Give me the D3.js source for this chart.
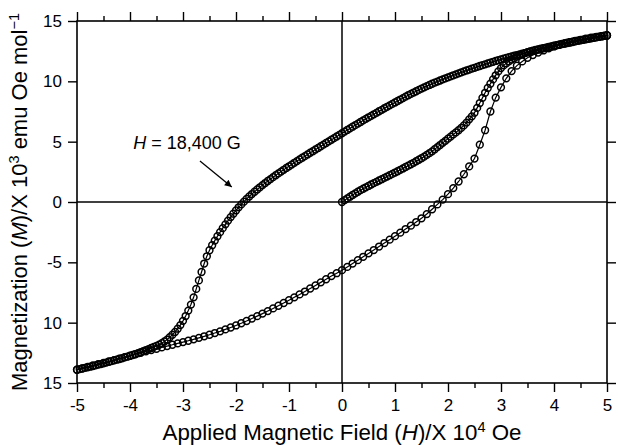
<!DOCTYPE html>
<html>
<head>
<meta charset="utf-8">
<script src="https://cdn.jsdelivr.net/npm/d3@7"></script>
<style>
  body { margin: 0; background: #fff; }
  text { font-family: "Liberation Sans", Arial, Helvetica, sans-serif; fill: #000; }
</style>
</head>
<body>
<div id="chart"></div>
<script>
// Virgin curve, 0 -> 5 (H x 10^4 Oe, M x 10^3 emu Oe/mol)
const hVirgin = [0.0,0.05,0.1,0.15,0.2,0.25,0.3,0.35,0.4,0.45,0.5,0.55,0.6,0.65,0.7,0.75,0.8,0.85,0.9,0.95,1.0,1.05,1.1,1.15,1.2,1.25,1.3,1.35,1.4,1.45,1.5,1.55,1.6,1.65,1.7,1.75,1.8,1.85,1.9,1.95,2.0,2.05,2.1,2.15,2.2,2.25,2.3,2.35,2.4,2.45,2.5,2.55,2.6,2.65,2.7,2.75,2.8,2.85,2.9,2.95,3.0,3.05,3.1,3.15,3.2,3.25,3.3,3.35,3.4,3.45,3.5,3.55,3.6,3.65,3.7,3.75,3.8,3.85,3.9,3.95,4.0,4.05,4.1,4.15,4.2,4.25,4.3,4.35,4.4,4.45,4.5,4.55,4.6,4.65,4.7,4.75,4.8,4.85,4.9,4.95,5.0];
const mVirgin = [0.0,0.15,0.3,0.44,0.58,0.72,0.85,0.98,1.1,1.22,1.33,1.45,1.56,1.67,1.78,1.89,2.0,2.11,2.22,2.33,2.44,2.55,2.67,2.78,2.9,3.01,3.13,3.25,3.38,3.5,3.63,3.76,3.9,4.05,4.2,4.37,4.55,4.72,4.9,5.07,5.25,5.42,5.6,5.77,5.95,6.14,6.35,6.58,6.85,7.1,7.4,7.8,8.2,8.63,9.05,9.45,9.8,10.16,10.5,10.82,11.1,11.32,11.5,11.66,11.8,11.93,12.05,12.15,12.25,12.34,12.42,12.49,12.55,12.6,12.65,12.7,12.75,12.8,12.85,12.9,12.95,13.0,13.05,13.1,13.15,13.2,13.24,13.29,13.33,13.38,13.42,13.46,13.5,13.54,13.58,13.62,13.66,13.7,13.74,13.78,13.82];

// Descending branch, 5 -> -5
const hDown = [5.0,4.95,4.9,4.85,4.8,4.75,4.7,4.65,4.6,4.55,4.5,4.45,4.4,4.35,4.3,4.25,4.2,4.15,4.1,4.05,4.0,3.95,3.9,3.85,3.8,3.75,3.7,3.65,3.6,3.55,3.5,3.45,3.4,3.35,3.3,3.25,3.2,3.15,3.1,3.05,3.0,2.95,2.9,2.85,2.8,2.75,2.7,2.65,2.6,2.55,2.5,2.45,2.4,2.35,2.3,2.25,2.2,2.15,2.1,2.05,2.0,1.95,1.9,1.85,1.8,1.75,1.7,1.65,1.6,1.55,1.5,1.45,1.4,1.35,1.3,1.25,1.2,1.15,1.1,1.05,1.0,0.95,0.9,0.85,0.8,0.75,0.7,0.65,0.6,0.55,0.5,0.45,0.4,0.35,0.3,0.25,0.2,0.15,0.1,0.05,0.0,-0.05,-0.1,-0.15,-0.2,-0.25,-0.3,-0.35,-0.4,-0.45,-0.5,-0.55,-0.6,-0.65,-0.7,-0.75,-0.8,-0.85,-0.9,-0.95,-1.0,-1.05,-1.1,-1.15,-1.2,-1.25,-1.3,-1.35,-1.4,-1.45,-1.5,-1.55,-1.6,-1.65,-1.7,-1.75,-1.8,-1.85,-1.9,-1.95,-2.0,-2.05,-2.1,-2.15,-2.2,-2.25,-2.3,-2.35,-2.4,-2.45,-2.5,-2.55,-2.6,-2.65,-2.7,-2.75,-2.8,-2.85,-2.9,-2.95,-3.0,-3.05,-3.1,-3.15,-3.2,-3.25,-3.3,-3.35,-3.4,-3.45,-3.5,-3.55,-3.6,-3.65,-3.7,-3.75,-3.8,-3.85,-3.9,-3.95,-4.0,-4.05,-4.1,-4.15,-4.2,-4.25,-4.3,-4.35,-4.4,-4.45,-4.5,-4.55,-4.6,-4.65,-4.7,-4.75,-4.8,-4.85,-4.9,-4.95,-5.0];
const mDown = [13.8,13.76,13.72,13.68,13.64,13.6,13.56,13.52,13.48,13.44,13.4,13.35,13.31,13.26,13.22,13.17,13.13,13.08,13.03,12.98,12.93,12.88,12.83,12.78,12.73,12.67,12.62,12.56,12.51,12.45,12.4,12.34,12.29,12.23,12.18,12.12,12.06,12.0,11.94,11.88,11.82,11.75,11.69,11.62,11.55,11.48,11.41,11.34,11.27,11.2,11.12,11.05,10.97,10.9,10.82,10.74,10.66,10.58,10.5,10.41,10.33,10.24,10.16,10.07,9.98,9.89,9.8,9.7,9.6,9.5,9.4,9.29,9.18,9.07,8.96,8.85,8.73,8.61,8.49,8.37,8.25,8.13,8.01,7.89,7.77,7.64,7.52,7.39,7.27,7.14,7.02,6.89,6.76,6.63,6.5,6.37,6.24,6.1,5.97,5.83,5.7,5.56,5.43,5.29,5.16,5.02,4.89,4.75,4.62,4.48,4.35,4.21,4.08,3.94,3.8,3.67,3.53,3.39,3.25,3.1,2.96,2.82,2.67,2.52,2.37,2.22,2.06,1.9,1.74,1.57,1.4,1.22,1.04,0.85,0.66,0.46,0.25,0.03,-0.2,-0.44,-0.7,-0.97,-1.25,-1.54,-1.85,-2.17,-2.5,-2.84,-3.2,-3.58,-4.0,-4.5,-5.1,-5.8,-6.5,-7.2,-7.9,-8.5,-9.0,-9.45,-9.85,-10.2,-10.5,-10.77,-11.0,-11.21,-11.4,-11.56,-11.7,-11.82,-11.92,-12.01,-12.1,-12.19,-12.27,-12.36,-12.45,-12.53,-12.6,-12.68,-12.75,-12.82,-12.88,-12.95,-13.01,-13.07,-13.13,-13.19,-13.25,-13.31,-13.37,-13.43,-13.48,-13.54,-13.6,-13.65,-13.7,-13.75,-13.8,-13.85,-13.9];

// Ascending branch, -5 -> 5
const hUp = [-5.0,-4.9,-4.8,-4.7,-4.6,-4.5,-4.4,-4.3,-4.2,-4.1,-4.0,-3.9,-3.8,-3.7,-3.6,-3.5,-3.4,-3.3,-3.2,-3.1,-3.0,-2.9,-2.8,-2.7,-2.6,-2.5,-2.4,-2.3,-2.2,-2.1,-2.0,-1.9,-1.8,-1.7,-1.6,-1.5,-1.4,-1.3,-1.2,-1.1,-1.0,-0.9,-0.8,-0.7,-0.6,-0.5,-0.4,-0.3,-0.2,-0.1,0.0,0.1,0.2,0.3,0.4,0.5,0.6,0.7,0.8,0.9,1.0,1.1,1.2,1.3,1.4,1.5,1.6,1.7,1.8,1.9,2.0,2.1,2.2,2.3,2.4,2.5,2.6,2.7,2.8,2.9,3.0,3.1,3.2,3.3,3.4,3.5,3.6,3.7,3.8,3.9,4.0,4.1,4.2,4.3,4.4,4.5,4.6,4.7,4.8,4.9,5.0];
const mUp = [-13.9,-13.78,-13.66,-13.55,-13.44,-13.33,-13.22,-13.1,-12.98,-12.86,-12.74,-12.62,-12.5,-12.38,-12.27,-12.16,-12.05,-11.94,-11.83,-11.72,-11.61,-11.5,-11.38,-11.26,-11.13,-11.0,-10.86,-10.72,-10.56,-10.4,-10.23,-10.05,-9.86,-9.66,-9.46,-9.25,-9.04,-8.82,-8.6,-8.37,-8.14,-7.9,-7.66,-7.42,-7.17,-6.92,-6.66,-6.4,-6.14,-5.9,-5.65,-5.38,-5.1,-4.82,-4.54,-4.26,-3.98,-3.69,-3.4,-3.12,-2.83,-2.54,-2.24,-1.96,-1.66,-1.35,-1.0,-0.6,-0.2,0.2,0.65,1.15,1.7,2.3,2.95,3.6,4.75,5.95,7.5,8.65,9.5,10.25,10.85,11.3,11.65,11.95,12.18,12.38,12.56,12.73,12.89,13.02,13.14,13.25,13.35,13.44,13.53,13.61,13.68,13.75,13.8];

const xTicks = [-5,-4,-3,-2,-1,0,1,2,3,4,5];
const xMinorTicks = [-4.5,-3.5,-2.5,-1.5,-0.5,0.5,1.5,2.5,3.5,4.5];
const yTicks = [15,10,5,0,-5,-10,-15];
const yTickLabels = ["15","10","5","0","-5","10","15"];

// annotation: text anchor and arrow tail/tip in data units
const noteText = [-3.94, 4.4];
const arrowFrom = [-2.68, 3.4];
const arrowTo = [-2.08, 1.25];

const width = 618, height = 445;
const margin = { top: 21, right: 11, bottom: 62, left: 77 };

const svg = d3.select("#chart")
    .append("svg")
    .attr("width", width)
    .attr("height", height);

const x = d3.scaleLinear().domain([-5, 5]).range([margin.left, width - margin.right]);
const y = d3.scaleLinear().domain([-15, 15]).range([height - margin.bottom, margin.top]);

const defs = svg.append("defs");
defs.append("marker")
    .attr("id", "arrow")
    .attr("viewBox", "0 0 10 10")
    .attr("refX", 10).attr("refY", 5)
    .attr("markerWidth", 10).attr("markerHeight", 7)
    .attr("markerUnits", "userSpaceOnUse")
    .attr("orient", "auto")
    .append("path")
    .attr("d", "M0,0 L10,5 L0,10 z")
    .attr("fill", "#000");

// zero lines
svg.append("line")
    .attr("x1", x(-5)).attr("x2", x(5))
    .attr("y1", y(0)).attr("y2", y(0))
    .attr("stroke", "#000").attr("stroke-width", 1.3);
svg.append("line")
    .attr("x1", x(0)).attr("x2", x(0))
    .attr("y1", y(-15)).attr("y2", y(15))
    .attr("stroke", "#000").attr("stroke-width", 1.5);

// axes
const styleAxis = g => {
    g.select(".domain").remove();
    g.selectAll(".tick line").attr("stroke", "#000").attr("stroke-width", 1.4);
    g.selectAll(".tick text").style("font-size", "17px").attr("fill", "#000");
};

svg.append("g")
    .attr("transform", `translate(0,${y(-15)})`)
    .call(d3.axisBottom(x).tickValues(xTicks).tickSize(9).tickPadding(7).tickFormat(d => String(d)))
    .call(styleAxis);
svg.append("g")
    .attr("transform", `translate(0,${y(-15)})`)
    .call(d3.axisBottom(x).tickValues(xMinorTicks).tickSize(5).tickFormat(""))
    .call(styleAxis);
svg.append("g")
    .attr("transform", `translate(0,${y(15)})`)
    .call(d3.axisTop(x).tickValues(xTicks).tickSize(9).tickFormat(""))
    .call(styleAxis);
svg.append("g")
    .attr("transform", `translate(0,${y(15)})`)
    .call(d3.axisTop(x).tickValues(xMinorTicks).tickSize(5).tickFormat(""))
    .call(styleAxis);
svg.append("g")
    .attr("transform", `translate(${x(-5)},0)`)
    .call(d3.axisLeft(y).tickValues(yTicks).tickSize(9).tickPadding(6)
        .tickFormat((d, i) => yTickLabels[i]))
    .call(styleAxis);
svg.append("g")
    .attr("transform", `translate(${x(5)},0)`)
    .call(d3.axisRight(y).tickValues(yTicks).tickSize(9).tickFormat(""))
    .call(styleAxis);

// frame
svg.append("rect")
    .attr("x", x(-5)).attr("y", y(15))
    .attr("width", x(5) - x(-5)).attr("height", y(-15) - y(15))
    .attr("fill", "none").attr("stroke", "#000").attr("stroke-width", 1.6);

// data
const branches = [
    d3.zip(hVirgin, mVirgin),
    d3.zip(hDown, mDown),
    d3.zip(hUp, mUp)
];

const line = d3.line().x(d => x(d[0])).y(d => y(d[1]));

svg.append("g").selectAll("path")
    .data(branches)
    .join("path")
    .attr("d", line)
    .attr("fill", "none")
    .attr("stroke", "#000")
    .attr("stroke-width", 1.2);

svg.append("g").selectAll("circle")
    .data(branches.flat())
    .join("circle")
    .attr("cx", d => x(d[0]))
    .attr("cy", d => y(d[1]))
    .attr("r", 3.4)
    .attr("fill", "none")
    .attr("stroke", "#000")
    .attr("stroke-width", 1.5);

// annotation
const note = svg.append("text")
    .attr("x", x(noteText[0])).attr("y", y(noteText[1]))
    .style("font-size", "18px");
note.append("tspan").style("font-style", "italic").text("H");
note.append("tspan").text(" = 18,400 G");

svg.append("line")
    .attr("x1", x(arrowFrom[0])).attr("y1", y(arrowFrom[1]))
    .attr("x2", x(arrowTo[0])).attr("y2", y(arrowTo[1]))
    .attr("stroke", "#000").attr("stroke-width", 1.3)
    .attr("marker-end", "url(#arrow)");

// axis titles
const xTitle = svg.append("text")
    .attr("x", (x(-5) + x(5)) / 2)
    .attr("y", 440)
    .attr("text-anchor", "middle")
    .style("font-size", "22.3px");
xTitle.append("tspan").text("Applied Magnetic Field (");
xTitle.append("tspan").style("font-style", "italic").text("H");
xTitle.append("tspan").text(")/X 10");
xTitle.append("tspan").attr("dy", -8).style("font-size", "14.5px").text("4");
xTitle.append("tspan").attr("dy", 8).text(" Oe");

const yTitle = svg.append("text")
    .attr("transform", `translate(27,${(y(15) + y(-15)) / 2}) rotate(-90)`)
    .attr("text-anchor", "middle")
    .style("font-size", "22px");
yTitle.append("tspan").text("Magnetization (");
yTitle.append("tspan").style("font-style", "italic").text("M");
yTitle.append("tspan").text(")/X 10");
yTitle.append("tspan").attr("dy", -8).style("font-size", "14.5px").text("3");
yTitle.append("tspan").attr("dy", 8).text(" emu Oe mol");
yTitle.append("tspan").attr("dy", -8).style("font-size", "14.5px").text("\u22121");
</script>
</body>
</html>
